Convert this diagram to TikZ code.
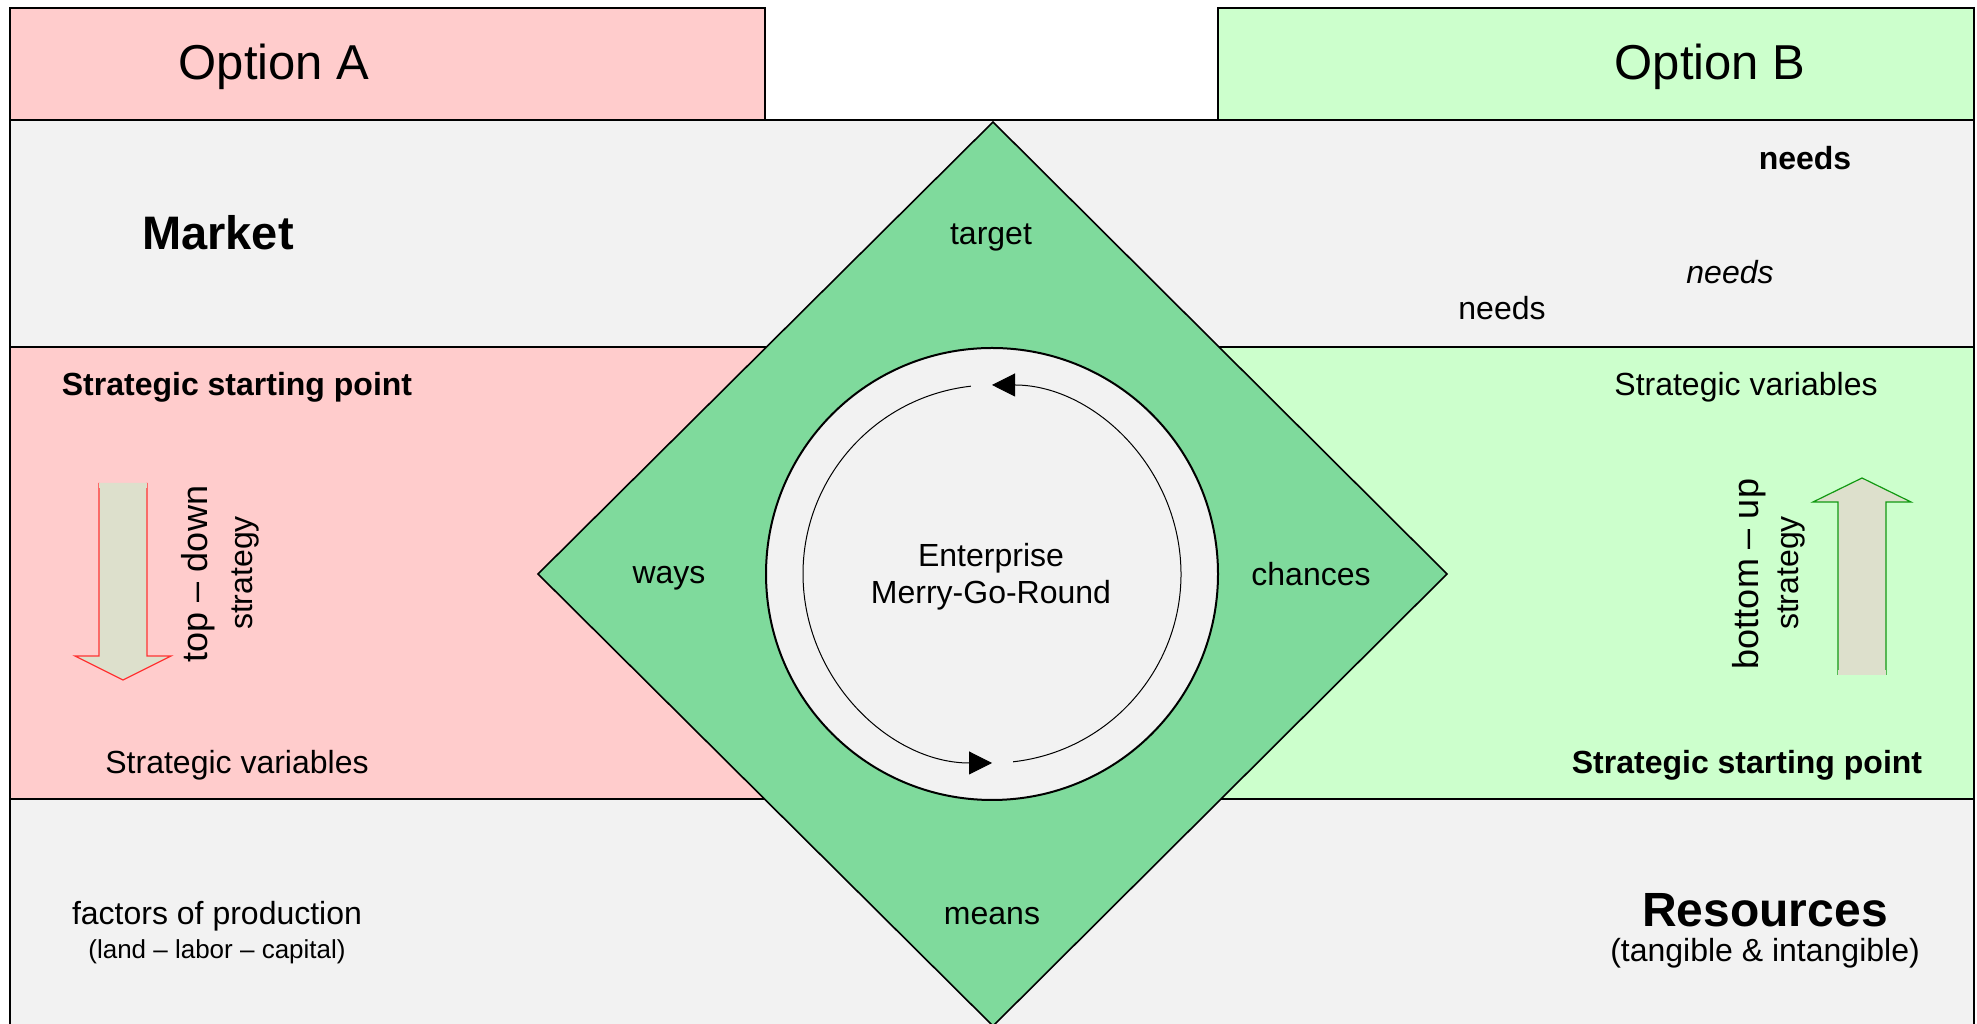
\documentclass[tikz,border=0pt]{standalone}
\usepackage{fontspec}
\setmainfont{Liberation Sans}
\usetikzlibrary{arrows.meta,calc}
\definecolor{optA}{HTML}{FFCCCC}
\definecolor{optB}{HTML}{CCFFCC}
\definecolor{band}{HTML}{F2F2F2}
\definecolor{wheel}{HTML}{7FDA9C}
\definecolor{arrowfill}{HTML}{DDE0CC}
\definecolor{downline}{HTML}{FF3333}
\definecolor{upline}{HTML}{119911}

\begin{document}
\begin{tikzpicture}[x=1pt,y=1pt,
  outline/.style={draw=black,line width=2pt},
  lbl/.style={inner sep=0pt,font=\fontsize{32}{37}\selectfont},
  big/.style={inner sep=0pt,font=\fontsize{49}{58}\selectfont},
  head/.style={inner sep=0pt,font=\bfseries\fontsize{47}{55}\selectfont},
  vert/.style={inner sep=0pt,rotate=90,font=\fontsize{36}{42}\selectfont},
  vertsmall/.style={inner sep=0pt,rotate=90,font=\fontsize{32}{37}\selectfont},
  turn/.style={line width=1pt,-{Triangle[length=23pt,width=23pt]}},
  blockarrow/.style={fill=arrowfill,line width=1.2pt}]
\useasboundingbox (0,0) rectangle (1977,1024);

% header boxes
\filldraw[fill=optA,outline] (10,904) rectangle (765,1016);
\filldraw[fill=optB,outline] (1218,904) rectangle (1974,1016);

% horizontal bands
\filldraw[fill=band,outline] (10,677) rectangle (1974,904);
\filldraw[fill=optA,outline] (10,225) rectangle (992,677);
\filldraw[fill=optB,outline] (992,225) rectangle (1974,677);
\fill[band] (10,-4) rectangle (1974,225);
\draw[outline] (10,-4) -- (10,225) -- (1974,225) -- (1974,-4);

% central diamond and wheel
\coordinate (cc) at (992,450);
\filldraw[fill=wheel,draw=black,line width=1.6pt]
  (993,902) -- (1447,450) -- (993,-2) -- (538,450) -- cycle;
\filldraw[fill=band,outline] (cc) circle[radius=226];
\draw[turn] ($(cc)+(-83.6:189)$) arc[start angle=-83.6,end angle=90,radius=189];
\draw[turn] ($(cc)+(96.4:189)$) arc[start angle=96.4,end angle=270,radius=189];

% block arrows
\filldraw[blockarrow,draw=downline]
  (99,541) -- (99,368) -- (75,368) -- (123,344) -- (171,368) -- (147,368) -- (147,541);
\fill[arrowfill] (99,541) rectangle (147,536);
\filldraw[blockarrow,draw=upline]
  (1838,349) -- (1838,522) -- (1813,522) -- (1862,546) -- (1911,522) -- (1886,522) -- (1886,349);
\fill[arrowfill] (1838,349) rectangle (1886,354);

% labels
\node[big] (optAlbl) at (274,957) {Option A};
\node[big] (optBlbl) at (1710,957) {Option B};
\node[head] (market) at (218,791) {Market};
\node[lbl,font=\bfseries\fontsize{32}{37}\selectfont] (needsA) at (1805,866) {needs};
\node[lbl,font=\itshape\fontsize{32}{37}\selectfont] (needsB) at (1730,752) {needs};
\node[lbl] (needsC) at (1502,716) {needs};

\node[lbl] (target) at (991,787) {target};
\node[lbl] (ways) at (669,446) {ways};
\node[lbl] (chances) at (1311,450) {chances};
\node[lbl] (means) at (992,108) {means};
\node[lbl,align=center] (emgr) at (991,447) {Enterprise\\Merry-Go-Round};

\node[lbl,font=\bfseries\fontsize{32}{37}\selectfont] (startA) at (237,637) {Strategic starting point};
\node[lbl] (varA) at (237,259) {Strategic variables};
\node[lbl] (varB) at (1746,637) {Strategic variables};
\node[lbl,font=\bfseries\fontsize{32}{37}\selectfont] (startB) at (1747,259) {Strategic starting point};

\node[vert] (topdown) at (198,450) {top – down};
\node[vertsmall] (stratA) at (245,451) {strategy};
\node[vert] (bottomup) at (1749,450) {bottom – up};
\node[vertsmall] (stratB) at (1791,451) {strategy};

\node[lbl] (factors) at (217,108) {factors of production};
\node[lbl,font=\fontsize{26}{31}\selectfont] (landlabor) at (217,72) {(land – labor – capital)};
\node[head,font=\bfseries\fontsize{48}{56}\selectfont] (resources) at (1765,114) {Resources};
\node[lbl] (tangible) at (1765,71) {(tangible \& intangible)};
\end{tikzpicture}
\end{document}
